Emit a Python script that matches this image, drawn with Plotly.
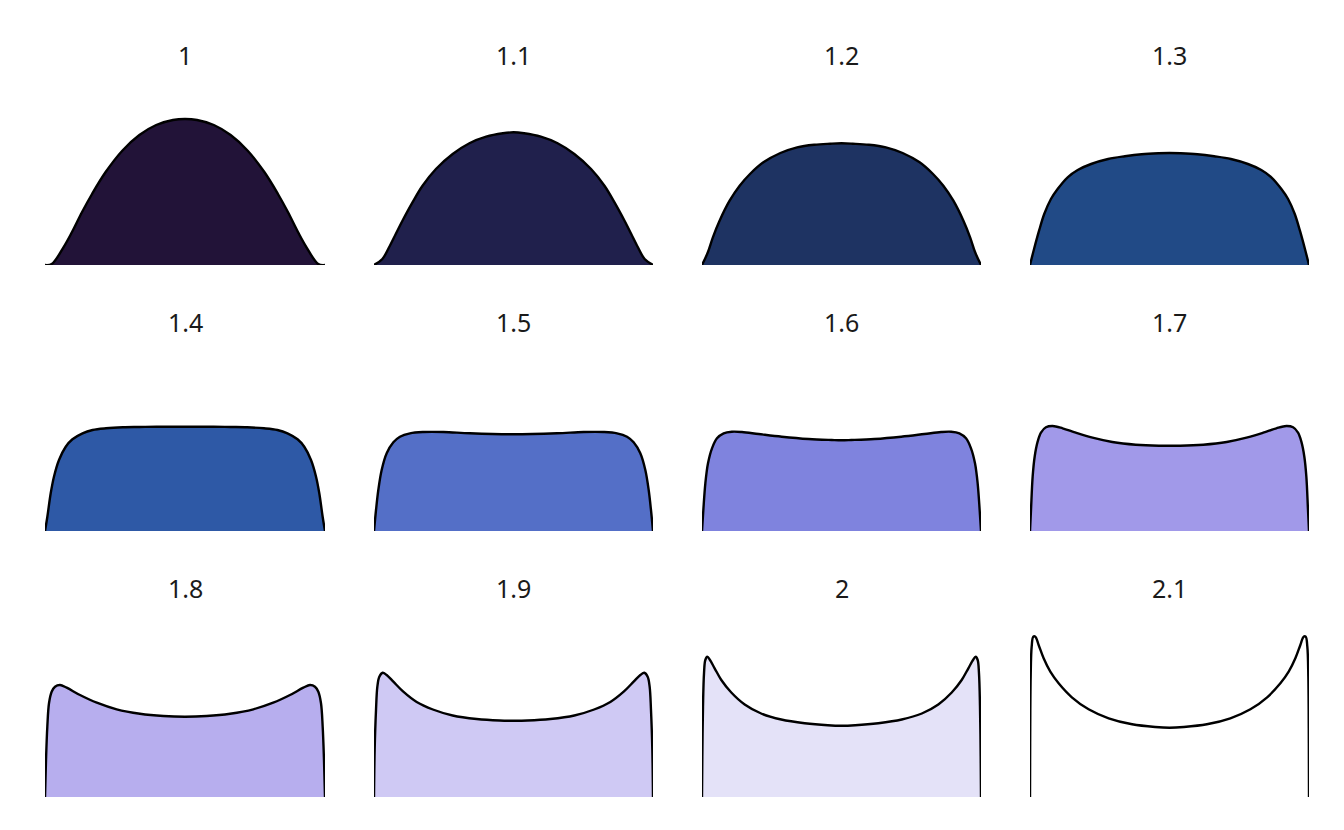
import plotly.graph_objects as go

# Panel labels and fill colours
labels = ["1", "1.1", "1.2", "1.3", "1.4", "1.5", "1.6", "1.7", "1.8", "1.9", "2", "2.1"]
fills = ["#221338", "#20204c", "#1e3362", "#214a86", "#2e59a6", "#546fc7",
         "#7f83de", "#a199e9", "#b7aeee", "#cfc9f4", "#e4e2f8", "#ffffff"]

# Left half of each (symmetric) curve: position across panel (0..0.5) and height
u_10 = [0, 0.024, 0.066, 0.096, 0.132, 0.168, 0.216, 0.276, 0.337, 0.397, 0.457, 0.5]
h_10 = [0, 1, 17.7, 32.7, 52.7, 71, 92.7, 114.3, 130, 140, 145, 146]

u_11 = [0, 0.03, 0.054, 0.078, 0.102, 0.138, 0.174, 0.222, 0.282, 0.342, 0.402, 0.462, 0.5]
h_11 = [0, 6, 17.7, 31, 44.3, 62.7, 79.3, 96, 111, 121.7, 128.3, 131.7, 132.7]

u_12 = [0, 0.021, 0.039, 0.063, 0.099, 0.135, 0.172, 0.22, 0.281, 0.341, 0.402, 0.46, 0.5]
h_12 = [0, 12.7, 27.7, 44.3, 64.3, 79.3, 91, 102.7, 112, 117.7, 120.3, 121.3, 121.7]

u_13 = [0, 0.0145, 0.0325, 0.051, 0.075, 0.099, 0.135, 0.171, 0.219, 0.28, 0.34, 0.4, 0.46, 0.5]
h_13 = [0, 16, 34.3, 51, 66, 76, 87.7, 95, 101, 106, 108.7, 110.7, 111.7, 112]

u_14 = [0, 0.0084, 0.0204, 0.032, 0.05, 0.074, 0.098, 0.134, 0.17, 0.218, 0.278, 0.338, 0.398, 0.5]
h_14 = [0, 14.3, 37.7, 54.3, 71, 84.3, 91.7, 97.7, 101, 102.7, 103.7, 104, 104.3, 104.3]

u_15 = [0, 0.0072, 0.0155, 0.0275, 0.0455, 0.0694, 0.093, 0.129, 0.177, 0.249, 0.344, 0.5]
h_15 = [0, 21, 41, 61, 77.7, 88.7, 94.3, 97.7, 99, 99, 97.7, 96.7]

u_16 = [0, 0.0048, 0.012, 0.0215, 0.0358, 0.0537, 0.0776, 0.107, 0.143, 0.203, 0.286, 0.382, 0.465, 0.5]
h_16 = [0, 21, 47.7, 67.7, 82.7, 92.7, 97.7, 99.3, 99, 97, 94.3, 92, 91, 90.7]

u_17 = [0, 0.0036, 0.0095, 0.0167, 0.0274, 0.0393, 0.0571, 0.081, 0.117, 0.164, 0.224, 0.295, 0.379, 0.462, 0.5]
h_17 = [0, 21, 54.3, 74.3, 89.3, 98.3, 103.7, 105, 102.7, 98.3, 93.3, 89, 86.3, 85.3, 85.3]

u_18 = [0, 0.0036, 0.0083, 0.0143, 0.0238, 0.0357, 0.0536, 0.0774, 0.125, 0.185, 0.256, 0.339, 0.423, 0.5]
h_18 = [0, 37, 70.3, 93.7, 105.3, 110.3, 112, 109.3, 102, 94.3, 87.7, 83.3, 81, 80.3]

u_19 = [0, 0.0024, 0.0072, 0.012, 0.0191, 0.0311, 0.0455, 0.0694, 0.105, 0.153, 0.211, 0.282, 0.368, 0.45, 0.5]
h_19 = [0, 47, 87, 110.3, 120.3, 124.3, 122, 115.3, 105.3, 95, 87.5, 81.5, 78, 76.5, 76.3]

u_20 = [0, 0.0012, 0.0036, 0.0072, 0.0119, 0.0191, 0.0286, 0.0453, 0.0692, 0.105, 0.153, 0.212, 0.284, 0.368, 0.451, 0.5]
h_20 = [0, 40.3, 90.3, 123.7, 137, 140.3, 137, 128.7, 117, 104.5, 92.5, 83.5, 77.5, 73.8, 71.8, 71.3]

u_21 = [0, 0.0006, 0.0024, 0.006, 0.0119, 0.0191, 0.031, 0.0489, 0.0728, 0.1026, 0.15, 0.21, 0.282, 0.366, 0.449, 0.5]
h_21 = [0, 53.7, 120.3, 150.3, 160.3, 160.3, 152, 138.7, 125.3, 113.7, 99.7, 87.7, 78.7, 72.7, 70, 69.3]

halves = [(u_10, h_10), (u_11, h_11), (u_12, h_12), (u_13, h_13),
          (u_14, h_14), (u_15, h_15), (u_16, h_16), (u_17, h_17),
          (u_18, h_18), (u_19, h_19), (u_20, h_20), (u_21, h_21)]

W, H = 1344, 830
col_px = [(45, 325), (374, 653), (702, 981), (1030, 1309)]
row_base = [265, 531, 797]
title_y = [55, 322, 588]
panel_h = 180  # pixels, value units map 1:1 to pixels

fig = go.Figure()
annotations = []
for i, (lab, col, (u, h)) in enumerate(zip(labels, fills, halves)):
    r, c = divmod(i, 4)
    # mirror the symmetric left half to get the full curve
    xs = list(u) + [1 - v for v in reversed(u[:-1])]
    ys = list(h) + list(reversed(h[:-1]))
    xa = "x" if i == 0 else f"x{i+1}"
    ya = "y" if i == 0 else f"y{i+1}"
    fig.add_trace(go.Scatter(
        x=xs, y=ys, xaxis=xa, yaxis=ya, mode="lines",
        line=dict(color="black", width=2.4, shape="spline", smoothing=1.0),
        fill="tozeroy", fillcolor=col, hoverinfo="skip", showlegend=False))
    x0, x1 = col_px[c]
    b = row_base[r]
    xdom = [x0 / W, x1 / W]
    ydom = [(H - b) / H, (H - b + panel_h) / H]
    kx = "xaxis" if i == 0 else f"xaxis{i+1}"
    ky = "yaxis" if i == 0 else f"yaxis{i+1}"
    fig.layout[kx] = dict(domain=xdom, range=[0, 1], visible=False, anchor=ya)
    fig.layout[ky] = dict(domain=ydom, range=[0, panel_h], visible=False, anchor=xa)
    annotations.append(dict(
        text=lab, x=(x0 + x1) / 2 / W, y=(H - title_y[r]) / H,
        xref="paper", yref="paper", xanchor="center", yanchor="middle",
        showarrow=False, font=dict(size=25, color="#1a1a1a", family="Noto Sans")))

fig.update_layout(width=W, height=H, margin=dict(l=0, r=0, t=0, b=0),
                  paper_bgcolor="white", plot_bgcolor="white",
                  annotations=annotations)
fig.write_html("out.html")
